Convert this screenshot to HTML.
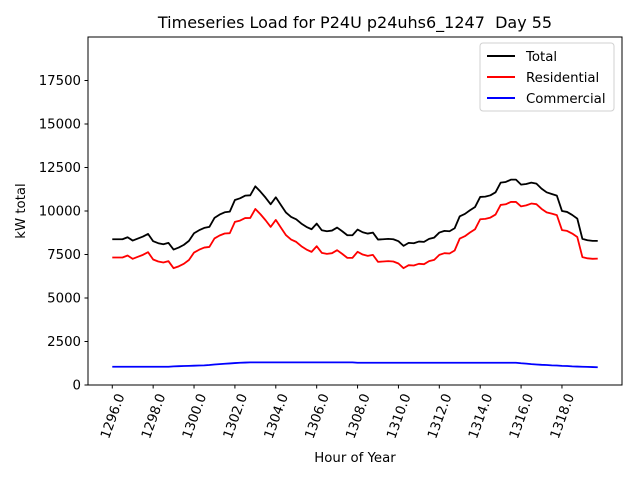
<!DOCTYPE html>
<html><head><meta charset="utf-8"><style>
body{margin:0;background:#fff}
svg text{font-family:"DejaVu Sans","Liberation Sans",sans-serif;fill:#000}
</style></head><body>
<svg id="chart" width="640" height="480" xmlns="http://www.w3.org/2000/svg">
<rect width="640" height="480" fill="#fff"/>
<text x="355" y="28" font-size="16" text-anchor="middle">Timeseries Load for P24U p24uhs6_1247&#160; Day 55</text>
<g id="plot"></g>
<text x="355" y="462" font-size="13.3" text-anchor="middle">Hour of Year</text>
<text transform="translate(25,211) rotate(-90)" font-size="13.3" text-anchor="middle">kW total</text>
<rect x="88" y="37" width="534" height="348" fill="none" stroke="#000" stroke-width="1"/>
<g>
<rect x="480" y="43" width="134" height="68" rx="3" fill="#fff" stroke="#ccc" stroke-width="1" opacity="0.9"/>
<line x1="487" y1="56" x2="515" y2="56" stroke="#000" stroke-width="2"/>
<text x="526" y="61" font-size="13.3">Total</text>
<line x1="487" y1="77" x2="515" y2="77" stroke="#f00" stroke-width="2"/>
<text x="526" y="82" font-size="13.3">Residential</text>
<line x1="487" y1="98" x2="515" y2="98" stroke="#00f" stroke-width="2"/>
<text x="526" y="103" font-size="13.3">Commercial</text>
</g>
</svg>
<script>
const total=[8377,8377,8377,8492,8301,8416,8530,8684,8263,8148,8091,8167,7785,7899,8053,8282,8722,8894,9028,9085,9602,9793,9927,9965,10634,10730,10883,10902,11418,11112,10768,10386,10787,10347,9907,9659,9525,9276,9085,8951,9276,8894,8837,8875,9047,8837,8607,8607,8932,8779,8703,8760,8358,8377,8397,8377,8263,7995,8167,8148,8244,8224,8397,8473,8760,8856,8837,9009,9697,9831,10042,10233,10807,10826,10902,11074,11629,11667,11801,11801,11514,11552,11629,11572,11285,11074,10979,10883,10003,9946,9774,9563,8397,8320,8282,8282];
const residential=[7327,7327,7327,7442,7251,7366,7480,7634,7213,7098,7041,7117,6715,6819,6963,7182,7612,7774,7898,7935,8422,8593,8707,8725,9374,9450,9593,9602,10118,9812,9468,9086,9487,9047,8607,8359,8225,7976,7785,7651,7976,7594,7537,7575,7747,7537,7307,7307,7652,7499,7423,7480,7078,7097,7117,7097,6983,6715,6887,6868,6964,6944,7117,7193,7480,7576,7557,7729,8417,8551,8762,8953,9527,9546,9622,9794,10349,10387,10521,10521,10264,10322,10429,10392,10125,9924,9849,9763,8903,8856,8704,8503,7347,7280,7252,7262];
const commercial=[1050,1050,1050,1050,1050,1050,1050,1050,1050,1050,1050,1050,1070,1080,1090,1100,1110,1120,1130,1150,1180,1200,1220,1240,1260,1280,1290,1300,1300,1300,1300,1300,1300,1300,1300,1300,1300,1300,1300,1300,1300,1300,1300,1300,1300,1300,1300,1300,1280,1280,1280,1280,1280,1280,1280,1280,1280,1280,1280,1280,1280,1280,1280,1280,1280,1280,1280,1280,1280,1280,1280,1280,1280,1280,1280,1280,1280,1280,1280,1280,1250,1230,1200,1180,1160,1150,1130,1120,1100,1090,1070,1060,1050,1040,1030,1020];
const startHour=1296, stepHour=0.25;
const xTicks=[1296,1298,1300,1302,1304,1306,1308,1310,1312,1314,1316,1318];
const yTicks=[0,2500,5000,7500,10000,12500,15000,17500];
const L=88,R=622,T=37,B=385,x0=1294.8125,x1=1320.9375,y0=0,y1=20000;
const X=h=>L+(h-x0)/(x1-x0)*(R-L);
const Y=v=>B-(v-y0)/(y1-y0)*(B-T);
const NS="http://www.w3.org/2000/svg";
const plot=document.getElementById('plot');
function mk(t,a){const e=document.createElementNS(NS,t);for(const k in a)e.setAttribute(k,a[k]);return e;}
yTicks.forEach(v=>{
 const g=mk('g',{});
 
 
 g.appendChild(mk('line',{x1:L-3.5,x2:L,y1:Y(v),y2:Y(v),stroke:'#000'}));
 const t=mk('text',{x:L-7,y:Y(v)+4.5,'font-size':'13.3','text-anchor':'end'});t.textContent=v;
 g.appendChild(t);plot.appendChild(g);
});
xTicks.forEach(h=>{
 const g=mk('g',{});
 
 
 g.appendChild(mk('line',{x1:X(h),x2:X(h),y1:B,y2:B+3.5,stroke:'#000'}));
 const t=mk('text',{transform:`translate(${X(h)},${B+31}) rotate(-70)`,'font-size':'13.3','text-anchor':'middle',dy:'0.35em'});t.textContent=h.toFixed(1);
 g.appendChild(t);plot.appendChild(g);
});
function line(arr,color,name){
 const d=arr.map((v,i)=>(i?'L':'M')+X(startHour+i*stepHour).toFixed(2)+' '+Y(v).toFixed(2)).join(' ');
 const p=mk('path',{d:d,fill:'none',stroke:color,'stroke-width':'1.8','stroke-linejoin':'round'});
 
 
 plot.appendChild(p);
}
line(total,'#000','total-line');
line(residential,'#f00','residential-line');
line(commercial,'#00f','commercial-line');
</script>
</body></html>
